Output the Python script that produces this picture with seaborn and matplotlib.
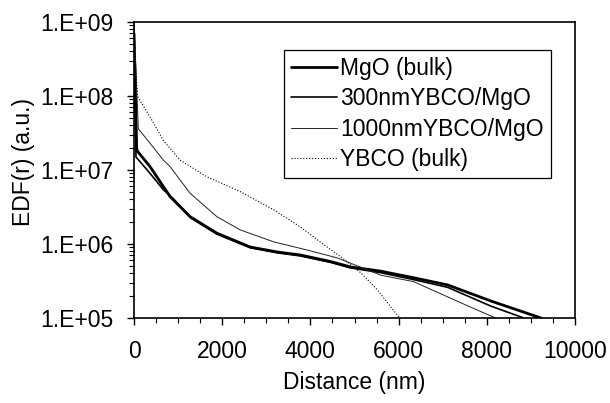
import numpy as np
import pandas as pd
import matplotlib
matplotlib.use('Agg')
import matplotlib.pyplot as plt
import matplotlib.ticker as mticker
import seaborn as sns

# Data (distance in nm, EDF in a.u.)
dist_mgo = [0, 60, 75, 364, 666, 818, 1273, 1879, 2636, 3250, 3773, 4455, 4910, 5590, 6340, 7110, 8090, 9230]
edf_mgo = [7e8, 2.0e7, 1.8e7, 1.11e7, 5.96e6, 4.37e6, 2.34e6, 1.40e6, 9.1e5, 7.8e5, 7.1e5, 5.8e5, 4.9e5, 4.3e5, 3.5e5, 2.8e5, 1.7e5, 1.0e5]

dist_300 = [0, 45, 364, 666, 890, 1273, 1879, 2636, 3250, 3773, 4455, 4910, 5590, 6340, 7110, 8090, 8840]
edf_300 = [4e8, 1.5e7, 9.0e6, 5.4e6, 4.1e6, 2.28e6, 1.36e6, 8.9e5, 7.6e5, 6.9e5, 5.65e5, 4.75e5, 4.1e5, 3.3e5, 2.6e5, 1.45e5, 1.0e5]

dist_1000 = [0, 98, 364, 666, 818, 1273, 1879, 2409, 3167, 3924, 4606, 5590, 6340, 7636, 8200]
edf_1000 = [1e9, 3.6e7, 2.3e7, 1.36e7, 1.11e7, 4.84e6, 2.34e6, 1.55e6, 1.07e6, 8.3e5, 6.5e5, 3.8e5, 3.1e5, 1.4e5, 1.0e5]

dist_ybco = [0, 30, 75, 364, 666, 1045, 1652, 2409, 3167, 3773, 4379, 4720, 5140, 5520, 6020]
edf_ybco = [8e8, 3e8, 1.0e8, 5.2e7, 2.5e7, 1.36e7, 8.1e6, 5.1e6, 2.9e6, 1.7e6, 9.1e5, 6.5e5, 4.1e5, 2.4e5, 1.0e5]

labels = ['MgO (bulk)', '300nmYBCO/MgO', '1000nmYBCO/MgO', 'YBCO (bulk)']

sns.set_style('ticks')
plt.rcParams['font.family'] = ['Liberation Sans', 'DejaVu Sans']
plt.rcParams['text.color'] = 'black'
plt.rcParams['axes.labelcolor'] = 'black'
fs = 16.5

fig = plt.figure(figsize=(6.1, 4.03), dpi=100)
ax = fig.add_axes([0.2197, 0.2109, 0.9426 - 0.2197, 0.9454 - 0.2109])

series = [
  (dist_mgo, edf_mgo, dict(color='black', lw=2.0, ls='-')),
  (dist_300, edf_300, dict(color='black', lw=1.2, ls='-')),
  (dist_1000, edf_1000, dict(color='#222222', lw=0.7, ls='-')),
  (dist_ybco, edf_ybco, dict(color='black', lw=0.8, ls=':')),
]
for (d, e, st), lab in zip(series, labels):
  df = pd.DataFrame({'Distance': d, 'EDF': e})
  sns.lineplot(data=df, x='Distance', y='EDF', ax=ax, label=lab, sort=False,
    color=st['color'], linewidth=st['lw'], linestyle=st['ls'])

ax.set_yscale('log')
ax.set_xlim(0, 10000)
ax.set_ylim(1e5, 1e9)
ax.xaxis.set_major_locator(mticker.MultipleLocator(2000))
ax.xaxis.set_minor_locator(mticker.MultipleLocator(500))
ax.yaxis.set_major_locator(mticker.LogLocator(base=10, numticks=10))
ax.yaxis.set_minor_locator(mticker.LogLocator(base=10, subs=np.arange(2, 10), numticks=10))
ax.yaxis.set_major_formatter(mticker.FuncFormatter(lambda v, p: f'1.E+{int(round(np.log10(v))):02d}'))
ax.yaxis.set_minor_formatter(mticker.NullFormatter())

ax.tick_params(which='major', direction='out', length=5, width=1, labelsize=fs, colors='black')
ax.tick_params(which='minor', direction='out', length=3.5, width=0.8, colors='black')
ax.tick_params(axis='x', which='major', pad=11)
ax.tick_params(axis='y', which='major', pad=10)
for s in ax.spines.values():
  s.set_visible(True)
  s.set_linewidth(1.2)
  s.set_color('black')

ax.set_xlabel('Distance (nm)', fontsize=fs, color='black')
ax.set_ylabel('EDF(r) (a.u.)', fontsize=fs, color='black')
ax.xaxis.set_label_coords(0.5, -0.18)
ax.yaxis.set_label_coords(-0.225, 0.527)

leg = ax.legend(loc='upper right', bbox_to_anchor=(0.945, 0.905), borderaxespad=0,
  fontsize=fs, frameon=True, fancybox=False, framealpha=1, edgecolor='black',
  handlelength=2.0, handletextpad=0.15, labelspacing=0.32, borderpad=0.3)
leg.get_frame().set_linewidth(0.9)
for t in leg.get_texts():
  t.set_color('black')

fig.savefig('out.png', dpi=100)
